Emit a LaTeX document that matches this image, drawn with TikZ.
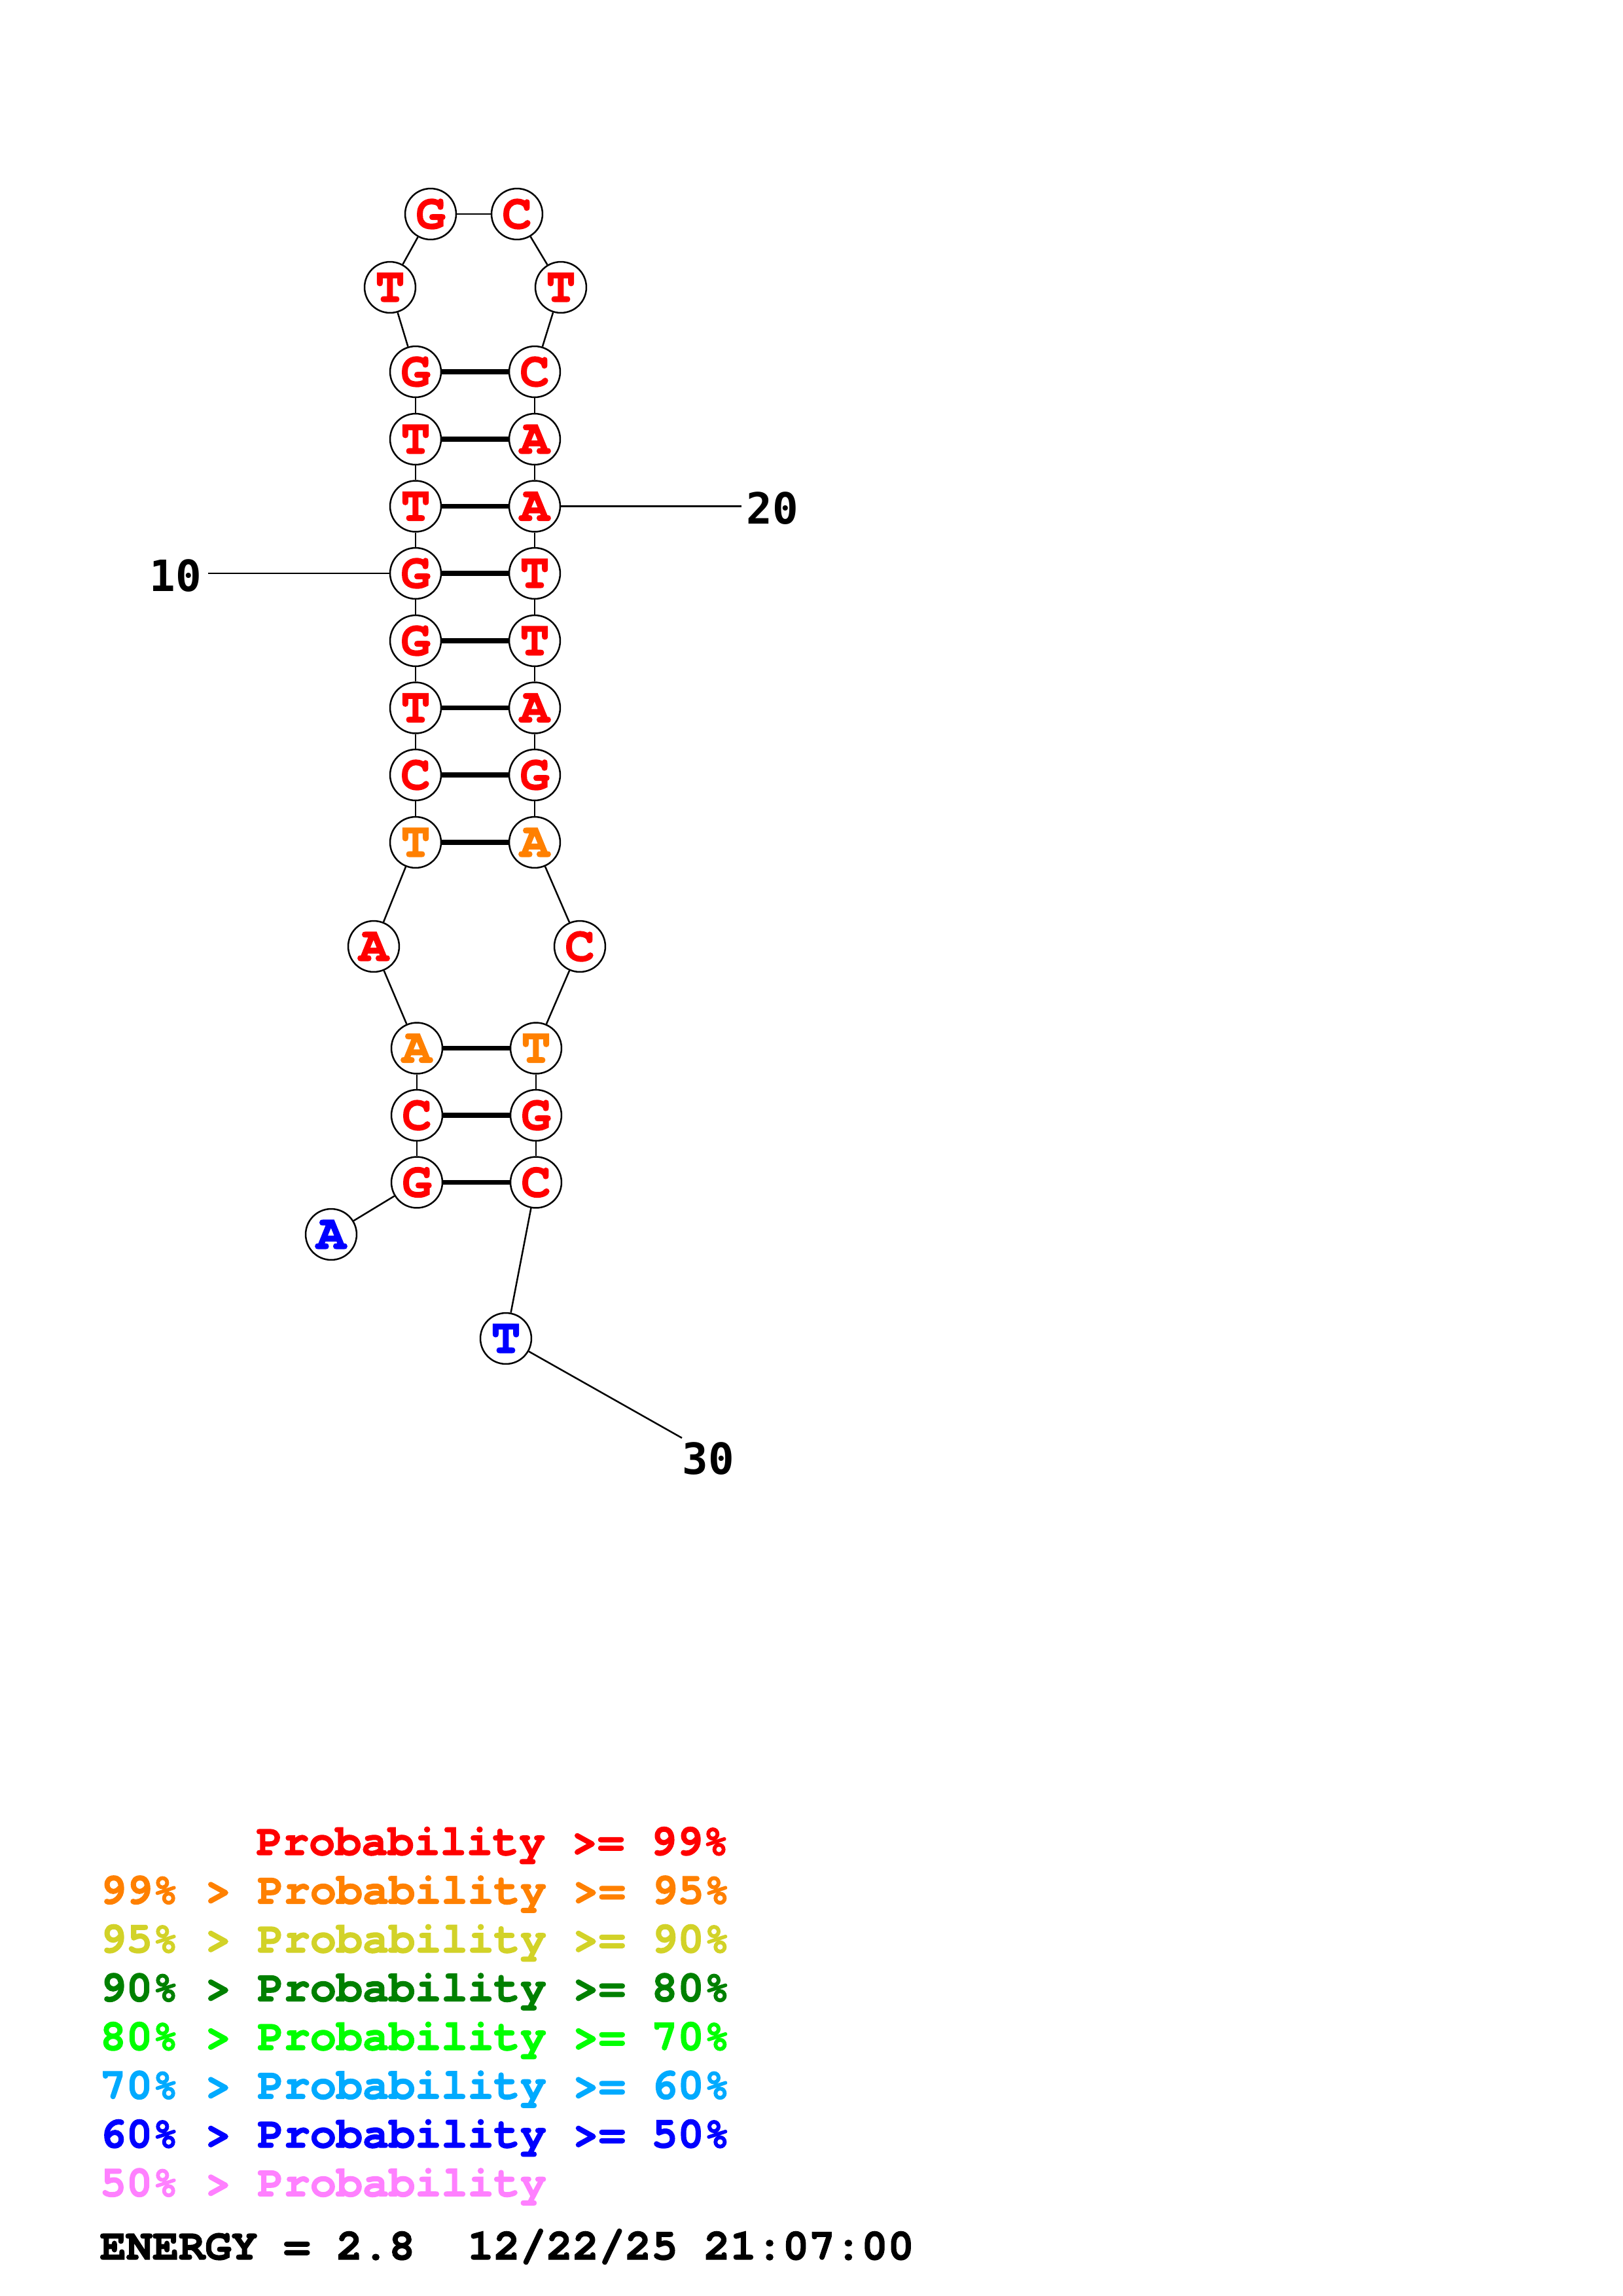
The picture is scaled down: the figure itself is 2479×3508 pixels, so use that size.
\documentclass[tikz,border=0pt]{standalone}
\usepackage{fontspec}
\newfontfamily\nucfont{texgyrecursor}[Extension=.otf,UprightFont=*-regular,BoldFont=*-bold,BoldFeatures={FakeBold=2}]
\newfontfamily\numfont{DejaVu Sans Mono}
\definecolor{pred}{RGB}{255,0,0}
\definecolor{porange}{RGB}{255,128,0}
\definecolor{pyellow}{RGB}{210,210,40}
\definecolor{pdgreen}{RGB}{0,128,0}
\definecolor{pgreen}{RGB}{0,255,0}
\definecolor{plblue}{RGB}{0,170,255}
\definecolor{pblue}{RGB}{0,0,255}
\definecolor{ppink}{RGB}{255,128,255}
\begin{document}
\begin{tikzpicture}[x=0.24bp,y=-0.24bp,
  nuc/.style={circle,draw=black,fill=white,line width=0.6bp,minimum size=18.7bp,inner sep=0pt,
    font=\nucfont\bfseries\fontsize{18bp}{18bp}\selectfont},
  bb/.style={line width=0.6bp},
  pairline/.style={line width=1.9bp},
  lbl/.style={inner sep=0pt,font=\numfont\bfseries\fontsize{15.8bp}{15.8bp}\selectfont},
  leg/.style={anchor=base west,inner sep=0pt,font=\nucfont\bfseries\fontsize{16.05bp}{16.05bp}\selectfont}]
\useasboundingbox (0,0) rectangle (2479,3508);
% nucleotides
\node[nuc,text=pblue]   (n1)  at (506,1886) {A};
\node[nuc,text=pred]    (n2)  at (637,1806.5) {G};
\node[nuc,text=pred]    (n3)  at (637,1704) {C};
\node[nuc,text=porange] (n4)  at (637,1601.5) {A};
\node[nuc,text=pred]    (n5)  at (571,1446) {A};
\node[nuc,text=porange] (n6)  at (635,1287) {T};
\node[nuc,text=pred]    (n7)  at (635,1184) {C};
\node[nuc,text=pred]    (n8)  at (635,1081.5) {T};
\node[nuc,text=pred]    (n9)  at (635,979) {G};
\node[nuc,text=pred]    (n10) at (635,876) {G};
\node[nuc,text=pred]    (n11) at (635,773.5) {T};
\node[nuc,text=pred]    (n12) at (635,671) {T};
\node[nuc,text=pred]    (n13) at (635,568) {G};
\node[nuc,text=pred]    (n14) at (596,439) {T};
\node[nuc,text=pred]    (n15) at (658,327) {G};
\node[nuc,text=pred]    (n16) at (790,327) {C};
\node[nuc,text=pred]    (n17) at (857,439) {T};
\node[nuc,text=pred]    (n18) at (817,568) {C};
\node[nuc,text=pred]    (n19) at (817,671) {A};
\node[nuc,text=pred]    (n20) at (817,773.5) {A};
\node[nuc,text=pred]    (n21) at (817,876) {T};
\node[nuc,text=pred]    (n22) at (817,979) {T};
\node[nuc,text=pred]    (n23) at (817,1081.5) {A};
\node[nuc,text=pred]    (n24) at (817,1184) {G};
\node[nuc,text=porange] (n25) at (817,1287) {A};
\node[nuc,text=pred]    (n26) at (886,1446) {C};
\node[nuc,text=porange] (n27) at (819,1601.5) {T};
\node[nuc,text=pred]    (n28) at (819,1704) {G};
\node[nuc,text=pred]    (n29) at (819,1806.5) {C};
\node[nuc,text=pblue]   (n30) at (773,2045) {T};
% backbone
\foreach \i [evaluate=\i as \j using int(\i+1)] in {1,...,29}
  \draw[bb] (n\i) -- (n\j);
% base pairs
\foreach \a/\b in {2/29,3/28,4/27,6/25,7/24,8/23,9/22,10/21,11/20,12/19,13/18}
  \draw[pairline] (n\a) -- (n\b);
% position labels
\coordinate (c10) at (318,876);
\coordinate (c20) at (1133,773.5);
\coordinate (c30) at (1042,2197);
\draw[bb] (c10) -- (n10);
\draw[bb] (n20) -- (c20);
\draw[bb] (n30) -- (c30);
\node[lbl,anchor=base east] (t10) at (309,903) {10};
\node[lbl,anchor=base west] (t20) at (1140,800) {20};
\node[lbl,anchor=base west] (t30) at (1042,2252) {30};
% legend
\node[leg,text=pred]    (g1) at (391,2834) {Probability >= 99\%};
\node[leg,text=porange] (g2) at (152,2908.5) {99\% > Probability >= 95\%};
\node[leg,text=pyellow] (g3) at (152,2983) {95\% > Probability >= 90\%};
\node[leg,text=pdgreen] (g4) at (152,3057.5) {90\% > Probability >= 80\%};
\node[leg,text=pgreen]  (g5) at (152,3132) {80\% > Probability >= 70\%};
\node[leg,text=plblue]  (g6) at (152,3206.5) {70\% > Probability >= 60\%};
\node[leg,text=pblue]   (g7) at (152,3281) {60\% > Probability >= 50\%};
\node[leg,text=ppink]   (g8) at (152,3355.5) {50\% > Probability};
\node[leg,text=black]   (g9) at (152,3452) {ENERGY = 2.8~~12/22/25 21:07:00};
\end{tikzpicture}
\end{document}
